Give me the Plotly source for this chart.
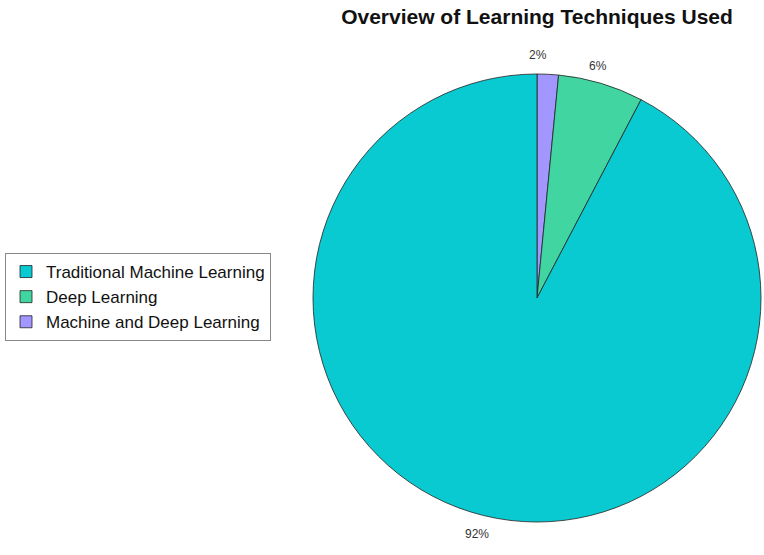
import math
import plotly.graph_objects as go

# Learning technique counts (shares: 92%, 6%, 2%)
techniques = ["Traditional Machine Learning", "Deep Learning", "Machine and Deep Learning"]
counts = [60, 4, 1]
colors = ["#09CAD1", "#41D6A1", "#A197FF"]

W, H = 764, 555
cx, cy, r = 537, 298, 224

# slices drawn clockwise from 12 o'clock in reverse order (matches reference)
order = list(reversed(range(len(techniques))))

fig = go.Figure(go.Pie(
    labels=[techniques[i] for i in order],
    values=[counts[i] for i in order],
    sort=False,
    direction="clockwise",
    rotation=0,
    marker=dict(colors=[colors[i] for i in order], line=dict(color="#222222", width=0.8)),
    textinfo="none",
    hoverinfo="label+percent",
    domain=dict(x=[(cx - r) / W, (cx + r) / W], y=[1 - (cy + r) / H, 1 - (cy - r) / H]),
))

# percentage labels just outside each slice, at its mid angle
total = sum(counts)
acc = 0
for i in order:
    frac = counts[i] / total
    mid = (acc + frac / 2) * 2 * math.pi
    acc += frac
    lx = cx + 1.125 * r * math.sin(mid)
    ly = cy - 1.125 * r * math.cos(mid)
    fig.add_annotation(x=lx / W, y=1 - ly / H, xref="paper", yref="paper",
                       text=f"{frac:.0%}", showarrow=False,
                       font=dict(size=12, color="#333333"))

fig.update_layout(
    width=W, height=H,
    margin=dict(l=0, r=0, t=0, b=0),
    paper_bgcolor="white",
    font=dict(family="Liberation Sans, Arial", color="#111111"),
    title=dict(text="<b>Overview of Learning Techniques Used</b>",
               x=cx / W, xanchor="center", y=1 - 17 / H, yanchor="middle",
               font=dict(size=21, color="#111111")),
    legend=dict(x=5 / W, xanchor="left", y=1 - 297 / H, yanchor="middle",
                traceorder="reversed",
                bordercolor="#888888", borderwidth=1, bgcolor="white",
                font=dict(size=17, color="#111111"), itemwidth=30),
    showlegend=True,
)

fig.write_html("out.html", config={"displayModeBar": False},
               post_script="document.body.style.margin='0';")
